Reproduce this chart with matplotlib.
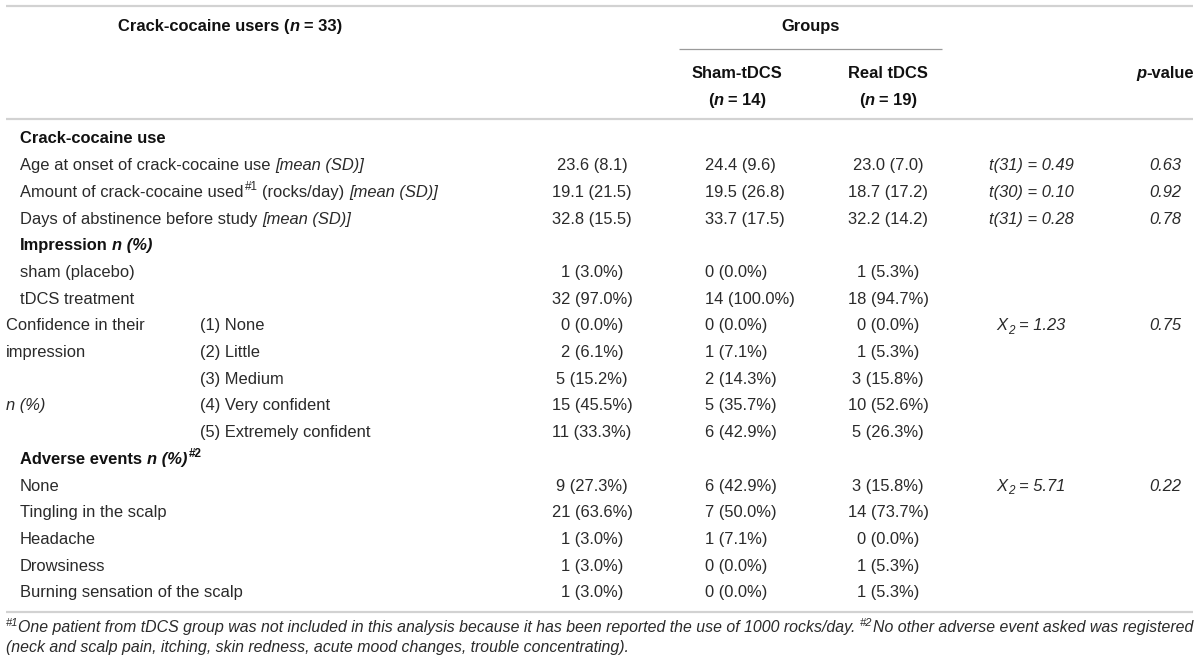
"""
Table: crack-cocaine users, sham vs real tDCS (drawn with matplotlib text).
"""

import matplotlib
matplotlib.use("Agg")
import matplotlib.pyplot as plt

# ---- data -------------------------------------------------------------
use_labels = ["Age at onset of crack-cocaine use", "Amount of crack-cocaine used", "Days of abstinence before study"]
use_mean_total = [23.6, 19.1, 32.8]
use_sd_total = [8.1, 21.5, 15.5]
use_mean_sham = [24.4, 19.5, 33.7]
use_sd_sham = [9.6, 26.8, 17.5]
use_mean_real = [23.0, 18.7, 32.2]
use_sd_real = [7.0, 17.2, 14.2]
use_df = [31, 30, 31]
use_t = [0.49, 0.10, 0.28]
use_p = [0.63, 0.92, 0.78]

impression_labels = ["sham (placebo)", "tDCS treatment"]
impression_total = [(1, 3.0), (32, 97.0)]
impression_sham = [(0, 0.0), (14, 100.0)]
impression_real = [(1, 5.3), (18, 94.7)]

confidence_labels = ["(1) None", "(2) Little", "(3) Medium", "(4) Very confident", "(5) Extremely confident"]
confidence_total = [(0, 0.0), (2, 6.1), (5, 15.2), (15, 45.5), (11, 33.3)]
confidence_sham = [(0, 0.0), (1, 7.1), (2, 14.3), (5, 35.7), (6, 42.9)]
confidence_real = [(0, 0.0), (1, 5.3), (3, 15.8), (10, 52.6), (5, 26.3)]
confidence_chi2 = 1.23
confidence_p = 0.75

adverse_labels = ["None", "Tingling in the scalp", "Headache", "Drowsiness", "Burning sensation of the scalp"]
adverse_total = [(9, 27.3), (21, 63.6), (1, 3.0), (1, 3.0), (1, 3.0)]
adverse_sham = [(6, 42.9), (7, 50.0), (1, 7.1), (0, 0.0), (0, 0.0)]
adverse_real = [(3, 15.8), (14, 73.7), (0, 0.0), (1, 5.3), (1, 5.3)]
adverse_chi2 = 5.71
adverse_p = 0.22

n_total, n_sham, n_real = 33, 14, 19

foot1 = "One patient from tDCS group was not included in this analysis because it has been reported the use of 1000 rocks/day."
foot2 = "No other adverse event asked was registered"
foot3 = "(neck and scalp pain, itching, skin redness, acute mood changes, trouble concentrating)."

# ---- style ------------------------------------------------------------
FAMILY = ["Liberation Sans", "DejaVu Sans"]
FS = 11.9
TXT = "#2a2a2a"
BOLD = "#111111"
RULE = "#d2d2d2"

fig = plt.figure(figsize=(12, 6.68), dpi=100)
ax = fig.add_axes([0, 0, 1, 1])
ax.set_xlim(0, 1200)
ax.set_ylim(668, 0)
ax.axis("off")
renderer = fig.canvas.get_renderer()


def width_of(t):
    return t.get_window_extent(renderer).width


def runs(x, y, parts, ha="left", size=FS, family=FAMILY, color=TXT):
    """Draw a line made of styled pieces. y is the row centre (pixels)."""
    base = y + size * 100 / 72 * 0.33
    probe = ax.text(0, 0, "x x", fontsize=size, family=family)
    probe2 = ax.text(0, 0, "xx", fontsize=size, family=family)
    space = width_of(probe) - width_of(probe2)
    probe.remove()
    probe2.remove()
    items = []
    for part in parts:
        s, opt = part if isinstance(part, tuple) else (part, {})
        lead = (len(s) - len(s.lstrip(" "))) * space + opt.get("pad", 0)
        trail = (len(s) - len(s.rstrip(" "))) * space
        small = opt.get("sup") or opt.get("sub")
        fs = size * 0.7 if small else size
        dy = 0
        if opt.get("sup"):
            dy = -size * 100 / 72 * 0.42
        if opt.get("sub"):
            dy = size * 100 / 72 * 0.2
        t = ax.text(0, base + dy, s.strip(" "), fontsize=fs, family=family,
                    fontweight=opt.get("weight", "normal"), fontstyle=opt.get("style", "normal"),
                    color=opt.get("color", color), va="baseline", ha="left")
        w = width_of(t) if s.strip(" ") else 0
        items.append((t, lead, w, trail))
    total = sum(l + w + tr for _, l, w, tr in items)
    if ha == "center":
        cx = x - total / 2
    elif ha == "right":
        cx = x - total
    else:
        cx = x
    for t, lead, w, trail in items:
        cx += lead
        t.set_x(cx)
        cx += w + trail
    return total, [it[0] for it in items]


B = {"weight": "bold", "color": BOLD}
BI = {"weight": "bold", "style": "italic", "color": BOLD}
I = {"style": "italic"}
SUP = {"sup": True, "pad": 1}
BSUP = {"sup": True, "weight": "bold", "color": BOLD, "pad": 2}
SUB = {"sub": True, "style": "italic", "pad": 1}

# ---- geometry ---------------------------------------------------------
X_LEFT, X_RIGHT = 6, 1193
X_LABEL, X_CONF = 20, 200
X_TOTAL, X_SHAM, X_REAL, X_STAT, X_P = 592, 705, 888, 1031, 1165
ROW0, STEP = 138, 26.7


def row_y(i):
    return ROW0 + STEP * i


# rules
for yy in (6, 119, 612):
    ax.plot([X_LEFT, X_RIGHT], [yy, yy], color=RULE, lw=1.6, solid_capstyle="butt")
ax.plot([679, 942], [49, 49], color="#9a9a9a", lw=0.9, solid_capstyle="butt")

# header
runs(230, 26, [("Crack-cocaine users (", B), ("n", BI), (" = %d)" % n_total, B)], ha="center")
runs(811, 26, [("Groups", B)], ha="center")
runs(737, 73, [("Sham-tDCS", B)], ha="center")
runs(737, 100, [("(", B), ("n", BI), (" = %d)" % n_sham, B)], ha="center")
runs(888, 73, [("Real tDCS", B)], ha="center")
runs(888, 100, [("(", B), ("n", BI), (" = %d)" % n_real, B)], ha="center")
runs(X_P, 73, [("p", BI), ("-value", B)], ha="center")


def cnt(v):
    return "%d (%.1f%%)" % v


# crack-cocaine use block
runs(X_LABEL, row_y(0), [("Crack-cocaine use", B)])
label_parts = [
    [use_labels[0] + " ", ("[mean (SD)]", I)],
    [use_labels[1], ("#1", SUP), " (rocks/day) ", ("[mean (SD)]", I)],
    [use_labels[2] + " ", ("[mean (SD)]", I)],
]
for i in range(3):
    y = row_y(1 + i)
    runs(X_LABEL, y, label_parts[i])
    runs(X_TOTAL, y, ["%.1f (%.1f)" % (use_mean_total[i], use_sd_total[i])], ha="center")
    runs(X_SHAM, y, ["%.1f (%.1f)" % (use_mean_sham[i], use_sd_sham[i])])
    runs(X_REAL, y, ["%.1f (%.1f)" % (use_mean_real[i], use_sd_real[i])], ha="center")
    runs(X_STAT, y, [("t(%d) = %.2f" % (use_df[i], use_t[i]), I)], ha="center")
    runs(X_P, y, [("%.2f" % use_p[i], I)], ha="center")

# impression block
runs(X_LABEL, row_y(4), [("Impression ", B), ("n (%)", BI)])
for i in range(2):
    y = row_y(5 + i)
    runs(X_LABEL, y, [impression_labels[i]])
    runs(X_TOTAL, y, [cnt(impression_total[i])], ha="center")
    runs(X_SHAM, y, [cnt(impression_sham[i])])
    runs(X_REAL, y, [cnt(impression_real[i])], ha="center")

# confidence block
runs(X_LEFT, row_y(7), ["Confidence in their"])
runs(X_LEFT, row_y(8), ["impression"])
runs(X_LEFT, row_y(10), [("n (%)", I)])
for i in range(5):
    y = row_y(7 + i)
    runs(X_CONF, y, [confidence_labels[i]])
    runs(X_TOTAL, y, [cnt(confidence_total[i])], ha="center")
    runs(X_SHAM, y, [cnt(confidence_sham[i])])
    runs(X_REAL, y, [cnt(confidence_real[i])], ha="center")
runs(X_STAT, row_y(7), [("X", I), ("2", SUB), (" = %.2f" % confidence_chi2, I)], ha="center")
runs(X_P, row_y(7), [("%.2f" % confidence_p, I)], ha="center")

# adverse events block
runs(X_LABEL, row_y(12), [("Adverse events ", B), ("n (%)", BI), ("#2", BSUP)])
for i in range(5):
    y = row_y(13 + i)
    runs(X_LABEL, y, [adverse_labels[i]])
    runs(X_TOTAL, y, [cnt(adverse_total[i])], ha="center")
    runs(X_SHAM, y, [cnt(adverse_sham[i])])
    runs(X_REAL, y, [cnt(adverse_real[i])], ha="center")
runs(X_STAT, row_y(13), [("X", I), ("2", SUB), (" = %.2f" % adverse_chi2, I)], ha="center")
runs(X_P, row_y(13), [("%.2f" % adverse_p, I)], ha="center")

# footnotes: scale the size so the first line spans the table width
foot_parts = [("#1", {"sup": True, "style": "italic"}), (foot1 + " ", I),
              ("#2", {"sup": True, "style": "italic"}), (foot2, I)]
fsz = 10.0
for _ in range(3):
    w, arts = runs(X_LEFT, 627, foot_parts, size=fsz)
    for a in arts:
        a.remove()
    fsz *= (X_RIGHT - X_LEFT) / w
runs(X_LEFT, 627, foot_parts, size=fsz)
runs(X_LEFT, 647, [(foot3, I)], size=fsz)

fig.savefig("out.png", dpi=100, facecolor="white")
